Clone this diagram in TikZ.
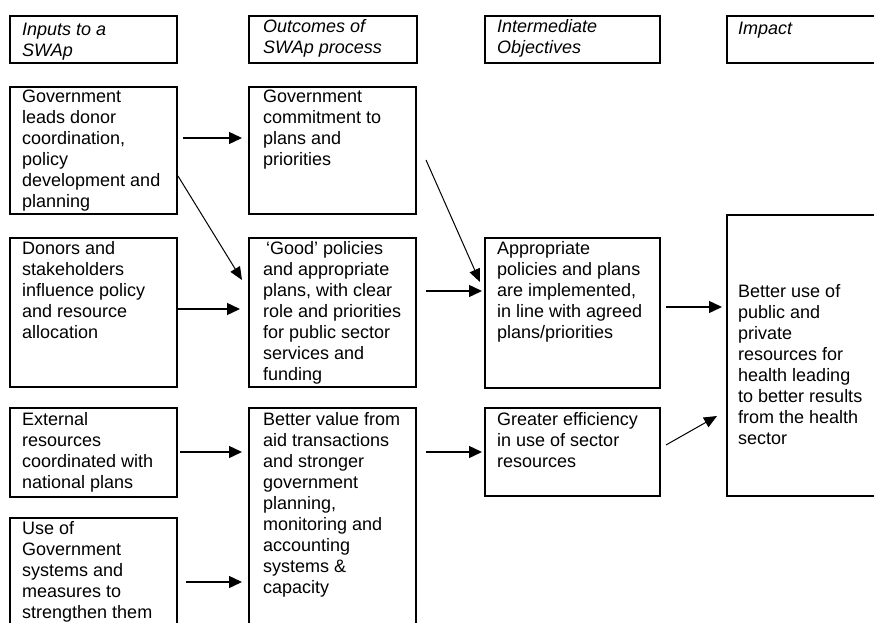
\documentclass[tikz,border=0pt]{standalone}
\usepackage{fontspec}
\setmainfont{Liberation Sans}
\usetikzlibrary{arrows.meta,positioning}

\begin{document}
\begin{tikzpicture}[
    x=1pt, y=1pt,
    box/.style={rectangle,draw,line width=1.6pt,inner sep=0pt,outer sep=0pt,anchor=north west},
    txt/.style={align=left,inner sep=0pt,font=\fontsize{18}{21}\selectfont},
    head/.style={txt,font=\fontsize{18}{21}\selectfont\itshape},
    arrow/.style={-{Triangle[length=13pt,width=12pt]},line width=1.4pt},
    diagarrow/.style={-{Triangle[length=13pt,width=11pt]},line width=1pt}
]
\useasboundingbox (0,0) rectangle (874,622);
\clip (0,0) rectangle (874,622);

% column headers
\node[box,minimum width=167pt,minimum height=47pt] (inputs) at (10,606) {};
\node[box,minimum width=168pt,minimum height=47pt] (outcomes) at (249,606) {};
\node[box,minimum width=175pt,minimum height=47pt] (interm) at (485,606) {};
\node[box,minimum width=160pt,minimum height=47pt] (impacthead) at (727,606) {};
\node[head, below right=7pt and 12pt of inputs.north west] (inputs-t) {Inputs to a\\SWAp};
\node[head, below right=3pt and 14pt of outcomes.north west] (outcomes-t) {Outcomes of\\SWAp process};
\node[head, below right=3pt and 12pt of interm.north west] (interm-t) {Intermediate\\Objectives};
\node[head, below right=6pt and 11pt of impacthead.north west] (impacthead-t) {Impact};

% boxes
\node[box,minimum width=167pt,minimum height=127pt] (govlead) at (10,535) {};
\node[box,minimum width=167pt,minimum height=127pt] (commit) at (249,535) {};
\node[box,minimum width=167pt,minimum height=149pt] (donors) at (10,384) {};
\node[box,minimum width=167pt,minimum height=149pt] (good) at (249,384) {};
\node[box,minimum width=175pt,minimum height=150pt] (appro) at (485,384) {};
\node[box,minimum width=160pt,minimum height=281pt] (impact) at (727,407) {};
\node[box,minimum width=167pt,minimum height=89pt] (external) at (10,214) {};
\node[box,minimum width=167pt,minimum height=240pt] (value) at (249,214) {};
\node[box,minimum width=175pt,minimum height=88pt] (effic) at (485,214) {};
\node[box,minimum width=167pt,minimum height=130pt] (usegov) at (10,104) {};

\node[txt, below right=3pt and 12pt of govlead.north west] (govlead-t) {Government\\leads donor\\coordination,\\policy\\development and\\planning};
\node[txt, below right=3pt and 14pt of commit.north west] (commit-t) {Government\\commitment to\\plans and\\priorities};
\node[txt, below right=3pt and 12pt of donors.north west] (donors-t) {Donors and\\stakeholders\\influence policy\\and resource\\allocation};
\node[txt, below right=3pt and 14pt of good.north west] (good-t) {\hspace*{3pt}`Good' policies\\and appropriate\\plans, with clear\\role and priorities\\for public sector\\services and\\funding};
\node[txt, below right=3pt and 12pt of appro.north west] (appro-t) {Appropriate\\policies and plans\\are implemented,\\in line with agreed\\plans/priorities};
\node[txt, below right=69pt and 11pt of impact.north west] (impact-t) {Better use of\\public and\\private\\resources for\\health leading\\to better results\\from the health\\sector};
\node[txt, below right=4pt and 12pt of external.north west] (external-t) {External\\resources\\coordinated with\\national plans};
\node[txt, below right=4pt and 14pt of value.north west] (value-t) {Better value from\\aid transactions\\and stronger\\government\\planning,\\monitoring and\\accounting\\systems \&\\capacity};
\node[txt, below right=4pt and 12pt of effic.north west] (effic-t) {Greater efficiency\\in use of sector\\resources};
\node[txt, below right=3pt and 12pt of usegov.north west] (usegov-t) {Use of\\Government\\systems and\\measures to\\strengthen them};

% connectors
\draw[arrow] ([xshift=6pt,yshift=12.5pt]govlead.east) -- ([xshift=-7pt,yshift=12.5pt]commit.west);
\draw[diagarrow] ([xshift=1pt,yshift=-25.5pt]govlead.east) -- ([xshift=-7pt,yshift=32.5pt]good.west);
\draw[arrow] ([xshift=1pt,yshift=3.5pt]donors.east) -- ([xshift=-9pt,yshift=3.5pt]good.west);
\draw[diagarrow] ([xshift=10pt,yshift=-9.5pt]commit.east) -- ([xshift=-5pt,yshift=31pt]appro.west);
\draw[arrow] ([xshift=10pt,yshift=21.5pt]good.east) -- ([xshift=-3pt,yshift=22pt]appro.west);
\draw[arrow] ([xshift=6pt,yshift=6pt]appro.east) -- ([xshift=-5pt,yshift=48.5pt]impact.west);
\draw[diagarrow] ([xshift=6pt,yshift=7pt]effic.east) -- ([xshift=-10pt,yshift=-60.5pt]impact.west);
\draw[arrow] ([xshift=3pt,yshift=0.5pt]external.east) -- ([xshift=-7pt,yshift=76pt]value.west);
\draw[arrow] ([xshift=9pt,yshift=1pt]usegov.east) -- ([xshift=-7pt,yshift=-54pt]value.west);
\draw[arrow] ([xshift=10pt,yshift=76pt]value.east) -- ([xshift=-3pt]effic.west);
\end{tikzpicture}
\end{document}
